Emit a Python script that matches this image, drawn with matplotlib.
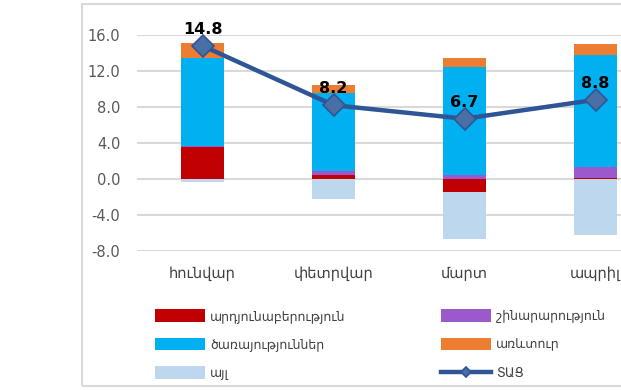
import numpy as np
import matplotlib.pyplot as plt
from matplotlib.patches import Rectangle

plt.rcParams['font.family'] = ['DejaVu Sans']

months = ['հունվար', 'փետրվար', 'մարտ', 'ապրիլ']
industry = [3.6, 0.4, -1.4, 0.1]
construction = [0.1, 0.5, 0.5, 1.2]
services = [9.8, 8.7, 11.9, 12.5]
trade = [1.6, 0.8, 1.0, 1.2]
other = [-0.3, -2.2, -5.3, -6.2]
gdp = [14.8, 8.2, 6.7, 8.8]

series = [
    ('արդյունաբերություն', industry, '#C00000'),
    ('շինարարություն', construction, '#9B59CC'),
    ('ծառայություններ', services, '#00B0F0'),
    ('առևտուր', trade, '#ED7D31'),
    ('այլ', other, '#BDD7EE'),
]

W, H = 621, 390
fig = plt.figure(figsize=(W / 100, H / 100), dpi=100)

# outer chart frame (runs past the right edge)
fig.patches.append(Rectangle((82 / W, 4 / H), 1.0, (386 - 4) / H,
                             transform=fig.transFigure, fill=False,
                             edgecolor='#D9D9D9', linewidth=1.5))

ax = fig.add_axes([137 / W, (H - 251) / H, 524 / W, 216 / H])

x = np.arange(len(months))
pos_base = np.zeros(len(months))
neg_base = np.zeros(len(months))
handles = {}
for name, vals, color in series:
    vals = np.array(vals)
    bottom = np.where(vals >= 0, pos_base, neg_base)
    b = ax.bar(x, vals, width=0.33, bottom=bottom, color=color,
               edgecolor='none', label=name, zorder=2)
    handles[name] = b
    pos_base = pos_base + np.where(vals >= 0, vals, 0)
    neg_base = neg_base + np.where(vals < 0, vals, 0)

line, = ax.plot(x, gdp, color='#2F5597', linewidth=3.2, marker='D',
                markersize=11, markerfacecolor='#4A6FA5',
                markeredgecolor='#2F5597', markeredgewidth=1.2,
                label='ՏԱՑ', zorder=4, clip_on=False)
for xi, v in zip(x, gdp):
    ax.annotate(f'{v:.1f}', (xi, v), xytext=(0, 12), textcoords='offset points',
                ha='center', va='center', fontsize=11.5, fontweight='bold',
                color='black', zorder=5, annotation_clip=False)

ax.set_xlim(-0.5, 3.5)
ax.set_ylim(-8, 16)
ax.set_yticks(np.arange(-8, 17, 4))
ax.set_yticklabels([f'{t:.1f}' for t in np.arange(-8, 17, 4)])
ax.set_xticks(x)
ax.set_xticklabels(months)
ax.tick_params(axis='y', length=0, pad=12, labelsize=10.5, labelcolor='#595959')
ax.tick_params(axis='x', length=0, pad=11, labelsize=10.5, labelcolor='#404040')
ax.grid(axis='y', color='#D9D9D9', linewidth=1.5, zorder=0)
ax.set_axisbelow(True)
for s in ax.spines.values():
    s.set_visible(False)

leg_kw = dict(frameon=False, fontsize=9, handlelength=4, handleheight=1.2,
              handletextpad=0.4, labelspacing=1.2, borderpad=0,
              borderaxespad=0, loc='upper left')
leg1 = fig.legend([handles['արդյունաբերություն'], handles['ծառայություններ'],
                   handles['այլ']],
                  ['արդյունաբերություն', 'ծառայություններ', 'այլ'],
                  bbox_to_anchor=(155 / W, (H - 309) / H), **leg_kw)
leg2 = fig.legend([handles['շինարարություն'], handles['առևտուր'], line],
                  ['շինարարություն', 'առևտուր', 'ՏԱՑ'],
                  bbox_to_anchor=(441 / W, (H - 309) / H), **leg_kw)
for leg in (leg1, leg2):
    for t in leg.get_texts():
        t.set_color('#404040')
leg2.legend_handles[2].set_markersize(5)

fig.savefig('out.png', dpi=100)
